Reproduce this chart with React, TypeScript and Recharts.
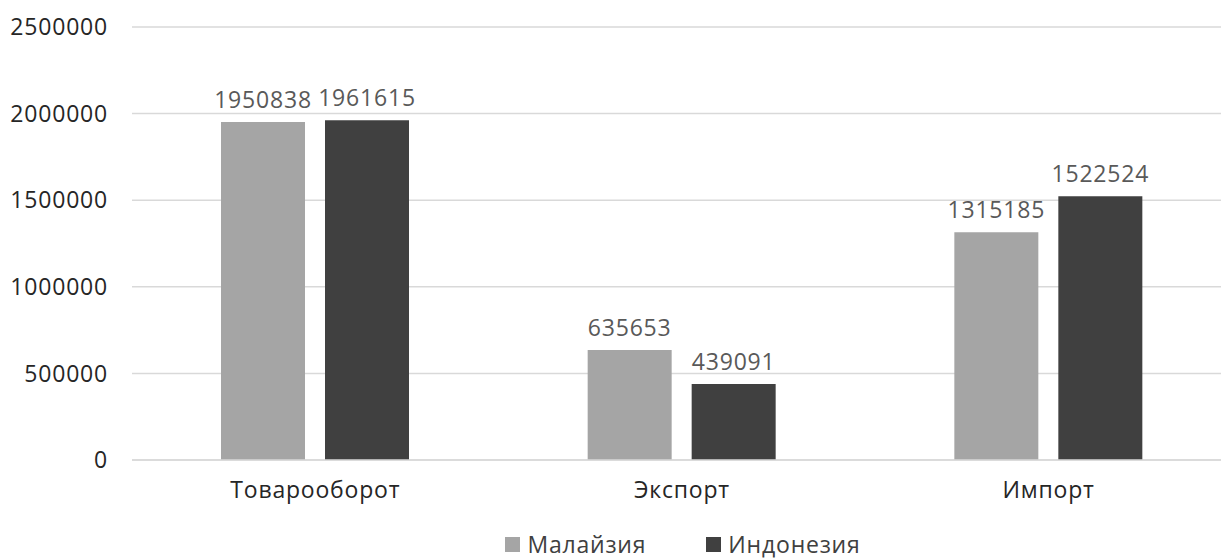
import React from "react";
import { BarChart, Bar, XAxis, YAxis, CartesianGrid, Legend, LabelList } from "recharts";

const categories = ["Товарооборот", "Экспорт", "Импорт"];
const malaysia = [1950838, 635653, 1315185];
const indonesia = [1961615, 439091, 1522524];
const yTicks = [0, 500000, 1000000, 1500000, 2000000, 2500000];
const seriesNames = ["Малайзия", "Индонезия"];
const seriesColors = ["#A5A5A5", "#404040"];

const data = categories.map((c, i) => ({ name: c, m: malaysia[i], id: indonesia[i] }));

const FONT = "'Open Sans', 'Noto Sans', sans-serif";
const FS = 23;
const LS = 0.8;

const renderLegend = () => (
  <div
    style={{
      display: "flex",
      justifyContent: "center",
      alignItems: "center",
      paddingLeft: 126,
      paddingTop: 0,
      height: 30,
      boxSizing: "border-box",
      fontFamily: FONT,
      fontSize: FS,
      lineHeight: "28px",
      letterSpacing: LS,
      color: "#404040",
    }}
  >
    {seriesNames.map((n, i) => (
      <div key={n} style={{ display: "flex", alignItems: "center", marginRight: i === 0 ? 60 : 0 }}>
        <div style={{ width: 15, height: 15, background: seriesColors[i], marginRight: 7 }} />
        <span>{n}</span>
      </div>
    ))}
  </div>
);

export default function App() {
  return (
    <div style={{ position: "absolute", left: 0, top: 0, width: 1221, height: 559, overflow: "hidden", background: "#fff" }}>
      <BarChart
        width={1240}
        height={559}
        data={data}
        margin={{ top: 27, right: 8, left: 0, bottom: 0 }}
        barCategoryGap={89}
        barGap={20}
      >
        <CartesianGrid vertical={false} stroke="#D9D9D9" strokeWidth={1.5} />
        <XAxis
          dataKey="name"
          axisLine={{ stroke: "#D9D9D9", strokeWidth: 1.5 }}
          tickLine={false}
          height={69}
          tickMargin={16}
          tick={{ fill: "#262626", fontSize: FS, fontFamily: FONT, letterSpacing: LS }}
        />
        <YAxis
          width={132}
          domain={[0, 2500000]}
          ticks={yTicks}
          axisLine={false}
          tickLine={false}
          tickMargin={18}
          tick={{ fill: "#262626", fontSize: FS, fontFamily: FONT, letterSpacing: LS }}
        />
        <Legend verticalAlign="bottom" content={renderLegend} wrapperStyle={{ height: 30, left: 0, width: 1240 }} />
        <Bar dataKey="m" name={seriesNames[0]} fill={seriesColors[0]} barSize={84} isAnimationActive={false}>
          <LabelList dataKey="m" position="top" offset={14} fill="#595959" fontSize={FS} fontFamily={FONT} letterSpacing={LS} />
        </Bar>
        <Bar dataKey="id" name={seriesNames[1]} fill={seriesColors[1]} barSize={84} isAnimationActive={false}>
          <LabelList dataKey="id" position="top" offset={14} fill="#595959" fontSize={FS} fontFamily={FONT} letterSpacing={LS} />
        </Bar>
      </BarChart>
    </div>
  );
}
